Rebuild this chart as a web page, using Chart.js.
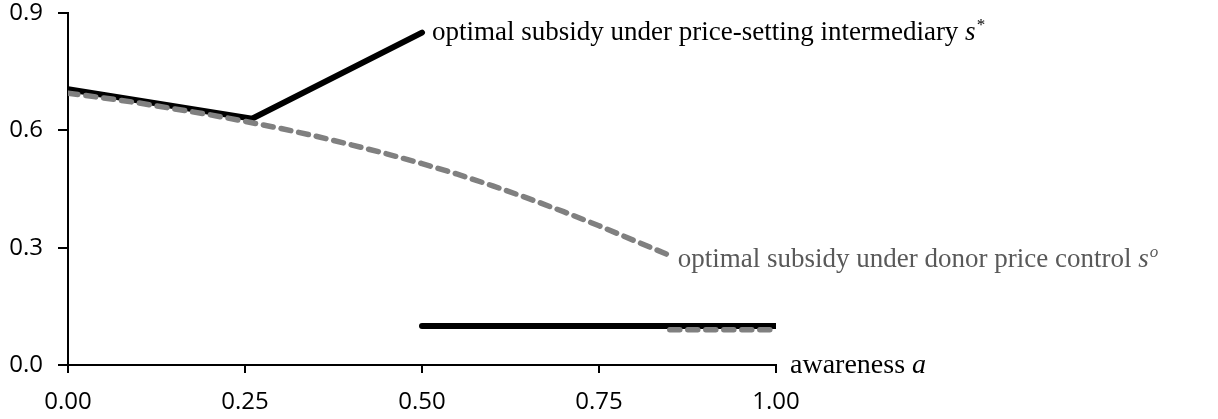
<!DOCTYPE html>
<html>
<head>
<meta charset="utf-8">
<script src="https://cdn.jsdelivr.net/npm/chart.js@4"></script>
<style>
  body { margin: 0; background: #fff; }
  #wrap { width: 1218px; height: 419px; }
</style>
</head>
<body>
<div id="wrap"><canvas id="subsidyChart" width="1218" height="419"></canvas></div>
<script>
// awareness a (x) and optimal subsidies (y)
const xTicks = [0, 0.25, 0.5, 0.75, 1];
const yTicks = [0, 0.3, 0.6, 0.9];

// s* : price-setting intermediary
const starA = [0, 0.26, 0.5];
const starS = [0.705, 0.63, 0.85];
const starLowA = [0.5, 1.0];
const starLowS = [0.1, 0.1];

// s^o : donor price control
const ctrlA = [0, 0.05, 0.10, 0.15, 0.20, 0.25, 0.30, 0.35, 0.40, 0.45, 0.50, 0.55, 0.60, 0.65, 0.70, 0.75, 0.80, 0.85];
const ctrlS = [0.695, 0.683, 0.670, 0.655, 0.640, 0.623, 0.605, 0.585, 0.563, 0.540, 0.515, 0.488, 0.458, 0.426, 0.392, 0.356, 0.318, 0.280];
const ctrlLowA = [0.85, 1.0];
const ctrlLowS = [0.09, 0.09];

function pts(xs, ys) {
    return xs.map((x, i) => ({ x: x, y: ys[i] }));
}

const serif = '"Liberation Serif", "Times New Roman", serif';
const labelSize = 27;
const tickFont = { family: '"Open Sans", sans-serif', size: 24 };

// draws the serif labels next to the curves and the axis title
const labelPlugin = {
    id: 'curveLabels',
    afterDraw(chart) {
        const ctx = chart.ctx;
        const xs = chart.scales.x;
        const ys = chart.scales.y;
        ctx.save();
        ctx.textBaseline = 'alphabetic';

        function labelWithSup(text, sup, supItalic, x, y, color) {
            ctx.fillStyle = color;
            ctx.font = labelSize + 'px ' + serif;
            ctx.fillText(text, x, y);
            let w = ctx.measureText(text).width;
            ctx.font = 'italic ' + labelSize + 'px ' + serif;
            ctx.fillText('s', x + w, y);
            w += ctx.measureText('s').width;
            ctx.font = (supItalic ? 'italic ' : '') + '17px ' + serif;
            ctx.fillText(sup, x + w + 1, y - 10);
        }

        labelWithSup('optimal subsidy under price-setting intermediary ', '*', false,
            xs.getPixelForValue(starA[2]) + 10, ys.getPixelForValue(starS[2]) + 7, '#000');
        labelWithSup('optimal subsidy under donor price control ', 'o', true,
            xs.getPixelForValue(ctrlA[ctrlA.length - 1]) + 8, ys.getPixelForValue(ctrlS[ctrlS.length - 1]) + 12, '#595959');

        // axis title
        const ax = xs.right + 14;
        const ay = ys.getPixelForValue(0) + 8;
        ctx.fillStyle = '#000';
        ctx.font = '28px ' + serif;
        ctx.fillText('awareness ', ax, ay);
        const w = ctx.measureText('awareness ').width;
        ctx.font = 'italic 28px ' + serif;
        ctx.fillText('a', ax + w, ay);
        ctx.restore();
    }
};

const ctx = document.getElementById('subsidyChart').getContext('2d');
new Chart(ctx, {
    type: 'line',
    data: {
        datasets: [{
            label: 's^o',
            data: pts(ctrlA, ctrlS),
            borderColor: '#808080',
            borderWidth: 5.5,
            borderDash: [10, 8],
            borderCapStyle: 'round',
            pointRadius: 0,
            tension: 0
        }, {
            label: 's^o low',
            data: pts(ctrlLowA, ctrlLowS),
            borderColor: '#808080',
            borderWidth: 5.5,
            borderDash: [10, 8],
            borderCapStyle: 'round',
            pointRadius: 0
        }, {
            label: 's*',
            data: pts(starA, starS),
            borderColor: '#000',
            borderWidth: 6,
            borderCapStyle: 'round',
            borderJoinStyle: 'miter',
            pointRadius: 0,
            tension: 0
        }, {
            label: 's* low',
            data: pts(starLowA, starLowS),
            borderColor: '#000',
            borderWidth: 6,
            borderCapStyle: 'round',
            pointRadius: 0
        }]
    },
    options: {
        responsive: false,
        animation: false,
        layout: {
            padding: { top: 13, right: 442, left: 0, bottom: 0 }
        },
        plugins: {
            legend: { display: false },
            tooltip: { enabled: false }
        },
        scales: {
            x: {
                type: 'linear',
                min: 0,
                max: 1,
                afterBuildTicks: axis => { axis.ticks = xTicks.map(v => ({ value: v })); },
                afterFit: scale => { scale.height = 54; scale.paddingTop = 0; },
                grid: {
                    drawOnChartArea: false,
                    drawTicks: true,
                    tickLength: 8,
                    color: '#000',
                    lineWidth: 2
                },
                border: { display: true, color: '#000', width: 2 },
                ticks: {
                    color: '#000',
                    padding: 15,
                    maxRotation: 0,
                    font: tickFont,
                    callback: v => Number(v).toFixed(2)
                }
            },
            y: {
                min: 0,
                max: 0.9,
                afterBuildTicks: axis => { axis.ticks = yTicks.map(v => ({ value: v })); },
                afterFit: scale => { scale.width = 68; scale.paddingTop = 0; scale.paddingBottom = 0; },
                grid: {
                    drawOnChartArea: false,
                    drawTicks: true,
                    tickLength: 10,
                    color: '#000',
                    lineWidth: 2
                },
                border: { display: true, color: '#000', width: 2 },
                ticks: {
                    color: '#000',
                    padding: 15,
                    font: tickFont,
                    callback: v => Number(v).toFixed(1)
                }
            }
        }
    },
    plugins: [labelPlugin]
});
</script>
</body>
</html>
